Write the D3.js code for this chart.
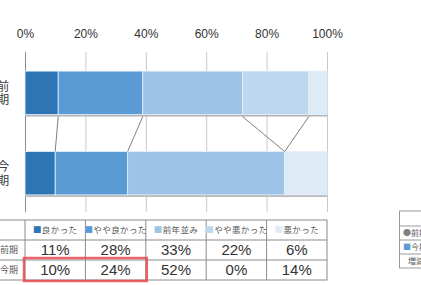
<!DOCTYPE html>
<html>
<head>
<meta charset="utf-8">
<title>良かった 前期 今期</title>
<script src="https://cdn.jsdelivr.net/npm/d3@7/dist/d3.min.js"></script>
<style>
    body { margin: 0; background: #fff; }
    svg { display: block; }
    .tick text { font-family: "Liberation Sans", sans-serif; font-size: 12px; fill: #333; }
    .jp { font-family: "Noto Sans CJK JP", sans-serif; }
    .num { font-family: "Liberation Sans Narrow", "Liberation Sans", sans-serif; }
</style>
</head>
<body>
<svg id="chart"></svg>
<script>
    // data
    const periods = ["前期", "今期"];
    const series = ["良かった", "やや良かった", "前年並み", "やや悪かった", "悪かった"];
    const zenki = [11, 28, 33, 22, 6];
    const konki = [10, 24, 52, 0, 14];
    const colors = ["#2e75b6", "#5b9bd5", "#9dc3e6", "#bdd7ee", "#deebf7"];
    const ticks = [0, 20, 40, 60, 80, 100];

    const W = 421, H = 285;
    let svg = d3.select("#chart").attr("width", W).attr("height", H);

    let x = d3.scaleLinear().domain([0, 100]).range([25, 327]);
    let y = d3.scaleBand().domain(periods).range([51, 215]).paddingInner(0.46).paddingOuter(0.25);

    // grid + top labels
    let axis = svg.append("g")
        .attr("transform", "translate(0,52)")
        .call(d3.axisTop(x).tickValues(ticks).tickFormat(d => d + "%").tickSizeInner(-160).tickSizeOuter(0).tickPadding(14));
    axis.select(".domain").remove();
    axis.selectAll(".tick line").attr("stroke", d => d == 0 ? "#8c8c8c" : "#c9c9c9");

    // stacked rows
    let rows = periods.map((p, i) => {
        let vals = i == 0 ? zenki : konki;
        let acc = 0;
        return vals.map((v, j) => {
            let seg = { period: p, s: j, x0: acc, x1: acc + v, v: v };
            acc += v;
            return seg;
        });
    });

    // shadow under bars
    svg.selectAll(".shadow")
        .data(periods)
        .enter()
        .append("rect")
        .attr("x", x(0))
        .attr("y", d => y(d) + y.bandwidth())
        .attr("width", x(100) - x(0))
        .attr("height", 2)
        .attr("fill", "#b3b3b3");

    svg.selectAll(".bar")
        .data(rows.flat().filter(d => d.v > 0))
        .enter()
        .append("rect")
        .attr("class", "bar")
        .attr("x", d => x(d.x0))
        .attr("y", d => y(d.period))
        .attr("width", d => x(d.x1) - x(d.x0))
        .attr("height", y.bandwidth())
        .attr("fill", d => colors[d.s])
        .attr("stroke", "#e6f0fa")
        .attr("stroke-width", 0.8);

    // connector lines between the two bars
    let links = d3.range(1, series.length).map(k => ({
        a: d3.sum(zenki.slice(0, k)),
        b: d3.sum(konki.slice(0, k))
    }));
    svg.selectAll(".link")
        .data(links)
        .enter()
        .append("line")
        .attr("x1", d => x(d.a))
        .attr("y1", y(periods[0]) + y.bandwidth() + 2)
        .attr("x2", d => x(d.b))
        .attr("y2", y(periods[1]))
        .attr("stroke", "#7f7f7f")
        .attr("stroke-width", 1);

    // vertical category labels
    periods.forEach(p => {
        let cy = y(p) + y.bandwidth() / 2;
        p.split("").forEach((ch, k) => {
            svg.append("text")
                .attr("class", "jp")
                .attr("x", 3)
                .attr("y", cy - 6.5 + k * 13.5)
                .attr("dy", "0.35em")
                .attr("text-anchor", "middle")
                .attr("font-size", 12.5)
                .attr("fill", "#404040")
                .text(ch);
        });
    });

    // data table
    const tTop = 220, rowH = 20;
    let tbl = svg.append("g");
    let colX = d3.range(0, 6).map(i => x(i * 20));
    tbl.append("rect")
        .attr("x", -40).attr("y", tTop)
        .attr("width", colX[5] + 40).attr("height", rowH * 3)
        .attr("fill", "none").attr("stroke", "#8a8a8a");
    colX.slice(0, 5).forEach(cx => {
        tbl.append("line").attr("x1", cx).attr("x2", cx).attr("y1", tTop).attr("y2", tTop + rowH * 3).attr("stroke", "#8a8a8a");
    });
    [1, 2].forEach(r => {
        tbl.append("line").attr("x1", -40).attr("x2", colX[5]).attr("y1", tTop + r * rowH).attr("y2", tTop + r * rowH).attr("stroke", "#8a8a8a");
    });

    series.forEach((s, j) => {
        let cx = (colX[j] + colX[j + 1]) / 2;
        let t = tbl.append("text")
            .attr("class", "jp")
            .attr("x", cx)
            .attr("y", tTop + rowH / 2)
            .attr("dy", "0.35em")
            .attr("text-anchor", "middle")
            .attr("font-size", 8.5)
            .attr("letter-spacing", 0.4)
            .attr("fill", "#595959");
        t.append("tspan").attr("fill", colors[j]).text("■");
        t.append("tspan").text(s);
    });

    periods.forEach((p, i) => {
        let vals = i == 0 ? zenki : konki;
        let cy = tTop + rowH * (i + 1) + rowH / 2;
        tbl.append("text")
            .attr("class", "jp")
            .attr("x", 18).attr("y", cy).attr("dy", "0.35em")
            .attr("text-anchor", "end")
            .attr("font-size", 9)
            .attr("fill", "#595959")
            .text(p);
        vals.forEach((v, j) => {
            tbl.append("text")
                .attr("class", "num")
                .attr("x", (colX[j] + colX[j + 1]) / 2)
                .attr("y", cy).attr("dy", "0.36em")
                .attr("text-anchor", "middle")
                .attr("font-size", 15)
                .attr("fill", "#333")
                .text(v + "%");
        });
    });

    // highlight box
    svg.append("rect")
        .attr("x", colX[0] - 1).attr("y", tTop + rowH * 2 - 2)
        .attr("width", colX[2] - colX[0] + 2).attr("height", rowH + 3)
        .attr("fill", "none")
        .attr("stroke", "#e8494e")
        .attr("stroke-opacity", 0.85)
        .attr("stroke-width", 2.5);

    // partial table at right edge
    const rTop = 211, rRow = 14;
    let rt = svg.append("g");
    rt.append("rect").attr("x", 399.5).attr("y", rTop).attr("width", 40).attr("height", 15 + rRow * 3)
        .attr("fill", "none").attr("stroke", "#9a9a9a");
    [0, 1, 2].forEach(r => {
        rt.append("line").attr("x1", 399.5).attr("x2", 421).attr("y1", rTop + 15 + r * rRow).attr("y2", rTop + 15 + r * rRow).attr("stroke", "#9a9a9a");
    });
    let leg = [["●", "#7f7f7f", "前期"], ["■", "#5b9bd5", "今期"], ["", "", "増減"]];
    leg.forEach((l, r) => {
        let t = rt.append("text")
            .attr("class", "jp")
            .attr("x", r == 2 ? 408 : 403)
            .attr("y", rTop + 15 + r * rRow + rRow / 2)
            .attr("dy", "0.35em")
            .attr("font-size", 8)
            .attr("fill", "#595959");
        if (l[0]) t.append("tspan").attr("fill", l[1]).text(l[0]);
        t.append("tspan").text(l[2]);
    });
</script>
</body>
</html>
